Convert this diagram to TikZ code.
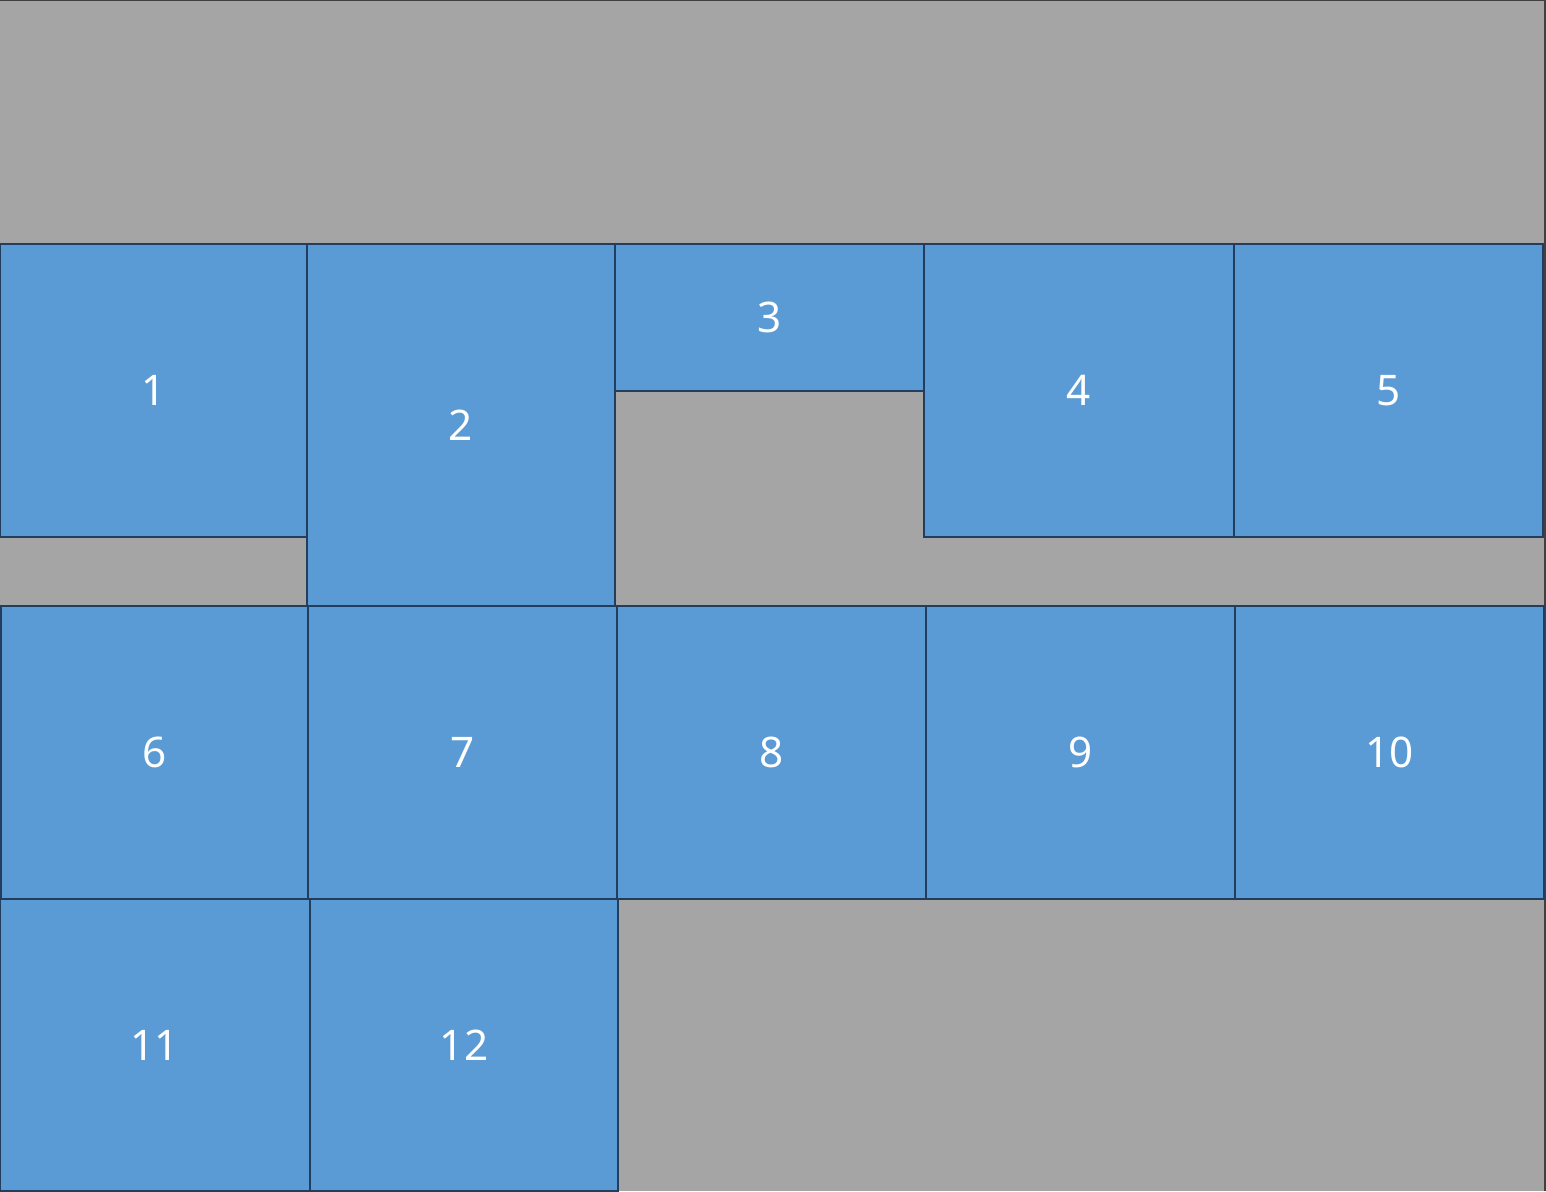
\documentclass[tikz,border=0pt]{standalone}
\usepackage{fontspec}
\setmainfont{Noto Sans}
\usepackage{tikz}
\definecolor{cellB}{RGB}{91,155,213}
\definecolor{edgeB}{RGB}{34,62,92}
\definecolor{backG}{RGB}{165,165,165}
\definecolor{frameG}{RGB}{64,64,64}

\begin{document}
\begin{tikzpicture}[font=\fontsize{12}{14}\selectfont,
  cell/.style={rectangle, draw=edgeB, fill=cellB, line width=0.6pt, text=white,
    inner sep=0, minimum width=3.08cm, minimum height=2.93cm}]
  \useasboundingbox (0,0) rectangle (15.46,11.91);
  % background frame
  \fill[backG] (0,0) rectangle (15.45,11.91);
  \draw[frameG, line width=0.6pt] (0,11.91) -- (15.45,11.91) -- (15.45,0);
  % first row
  \node[cell, minimum width=3.07cm] (c1) at (1.535,8.005) {1};
  \node[cell, minimum height=3.62cm] (c2) at (4.61,7.66) {2};
  \node[cell, minimum width=3.09cm, minimum height=1.47cm] (c3) at (7.695,8.735) {3};
  \node[cell, minimum width=3.10cm] (c4) at (10.79,8.005) {4};
  \node[cell, minimum width=3.09cm] (c5) at (13.885,8.005) {5};
  % second row
  \node[cell, minimum width=3.07cm] (c6) at (1.545,4.385) {6};
  \node[cell, minimum width=3.09cm] (c7) at (4.625,4.385) {7};
  \node[cell, minimum width=3.09cm] (c8) at (7.715,4.385) {8};
  \node[cell, minimum width=3.09cm] (c9) at (10.805,4.385) {9};
  \node[cell, minimum width=3.09cm] (c10) at (13.895,4.385) {10};
  % third row
  \node[cell, minimum width=3.10cm, minimum height=2.92cm] (c11) at (1.55,1.46) {11};
  \node[cell, minimum height=2.92cm] (c12) at (4.64,1.46) {12};
\end{tikzpicture}
\end{document}
